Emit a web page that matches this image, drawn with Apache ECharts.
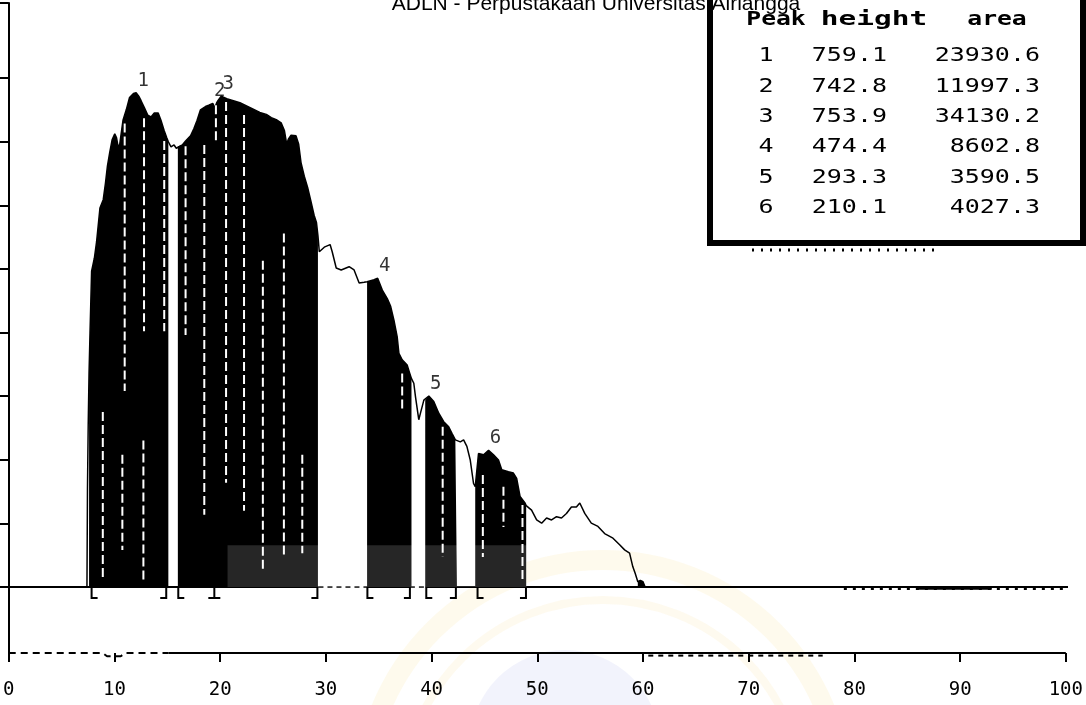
<!DOCTYPE html>
<html>
<head>
<meta charset="utf-8">
<script src="https://cdn.jsdelivr.net/npm/echarts@6/dist/echarts.min.js"></script>
<style>
  html, body { margin: 0; padding: 0; background: #fff; }
  #chart { width: 1086px; height: 705px; }
</style>
</head>
<body>
<div id="chart"></div>
<script>
// Detector trace: retention time (min) and response
const traceTime = [
  7.40, 7.45, 7.52, 7.60, 7.69, 7.84, 8.10, 8.31, 8.63, 8.94, 9.15, 9.34, 9.56, 9.78,
  10.03, 10.20, 10.35, 10.50, 10.81, 11.12, 11.43, 11.80, 12.05, 12.30, 12.52, 12.84,
  13.15, 13.46, 13.77, 14.14, 14.40, 14.71, 14.95, 15.10, 15.35, 15.64, 15.85, 16.00,
  16.42, 16.73, 17.20, 17.51, 17.82, 18.14, 18.61, 18.92, 19.30, 19.50, 19.70, 20.10,
  20.63, 21.25, 21.87, 22.50, 23.13, 23.75, 24.37, 24.84, 25.31, 25.77, 26.08, 26.30,
  26.45, 26.71, 27.18, 27.43, 27.65, 27.96, 28.27, 28.58, 28.89, 29.11, 29.25, 29.38,
  29.85, 30.40, 30.60, 30.98, 31.45, 32.20, 32.67, 33.15, 33.62, 33.90, 34.56, 34.90,
  35.34, 35.81, 36.13, 36.44, 36.75, 36.91, 37.22, 37.69, 37.90, 38.10, 38.32, 38.48,
  38.79, 38.95, 39.27, 39.40, 39.74, 40.21, 40.68, 41.15, 41.62, 41.93, 42.25, 42.40,
  42.72, 43.03, 43.34, 43.66, 43.97, 44.13, 44.44, 44.92, 45.39, 45.86, 46.33, 46.64,
  47.27, 47.74, 48.05, 48.37, 48.84, 48.95, 49.46, 49.94, 50.41, 50.88, 51.35, 51.82,
  52.29, 52.76, 53.23, 53.70, 54.02, 54.49, 55.11, 55.74, 56.37, 57.16, 57.79, 58.26,
  58.73, 59.04, 59.26, 59.51, 59.60, 59.75, 60.00, 60.20
];
const traceSignal = [
  0, 150, 250, 330, 390, 485, 505, 530, 582, 595, 620, 647, 668, 687,
  696, 690, 676, 680, 717, 733, 752, 758, 759.1, 754, 747, 736,
  725, 722, 728, 728, 717, 701, 690, 684, 676, 679, 674, 677,
  679, 685, 693, 704, 717, 733, 738, 740, 742.8, 736, 745, 753.9,
  750, 747, 744, 739, 734, 729, 726, 721, 718, 713, 701, 680,
  688, 694, 693, 680, 652, 631, 614, 593, 571, 560, 540, 515,
  522, 526, 515, 490, 487, 492, 487, 467, 468, 469, 472, 474.4,
  456, 443, 431, 410, 384, 359, 349, 341, 330, 320, 313, 292,
  257, 267, 287, 287, 293.3, 285, 267, 254, 246, 236, 226, 223,
  223, 226, 216, 195, 159, 154, 205, 203, 210.1, 203, 195, 180,
  177, 175, 167, 139, 129, 125, 118, 103, 98, 106, 103, 108,
  106, 113, 123, 123, 129, 113, 98, 93, 82, 75, 65, 57,
  52, 31, 21, 8, 6, 10, 8, 0
];

// Integrated (shaded) windows
const windowStart = [7.60, 16.00, 33.90, 39.40, 44.13, 59.51];
const windowEnd   = [15.10, 29.25, 38.10, 42.40, 48.95, 60.20];

// Peak table
const peakNo     = ['1', '2', '3', '4', '5', '6'];
const peakTime   = [12.05, 19.30, 20.10, 34.90, 39.74, 45.39];
const peakHeight = [759.1, 742.8, 753.9, 474.4, 293.3, 210.1];
const peakArea   = [23930.6, 11997.3, 34130.2, 8602.8, 3590.5, 4027.3];

// Peak start / end / split marks under the baseline (0 start, 1 end, 2 split)
const markTime = [7.84, 14.90, 16.04, 19.45, 29.20, 33.93, 37.95, 39.50, 42.30, 44.35, 48.93];
const markKind = [0, 1, 0, 2, 1, 0, 1, 0, 1, 0, 1];

// Printer hatching inside the shaded windows
const hatchTime   = [8.90, 10.75, 10.97, 12.80, 12.74, 14.71, 16.73, 18.50, 19.60, 20.56, 22.26, 24.04, 26.03, 27.77, 37.22, 41.05, 44.85, 46.80, 48.60];
const hatchTop    = [269, 203, 712, 720, 225, 685, 677, 679, 760, 745, 725, 501, 543, 203, 328, 246, 172, 154, 126];
const hatchBottom = [12, 57, 301, 393, 9, 393, 387, 111, 685, 160, 117, 28, 44, 52, 272, 46, 46, 92, 11];

// Axis ticks
const xTickStep = 10;
const yTickValues = [0, 97.7, 195.4, 293.1, 390.8, 488.5, 586.2, 683.9, 781.6, 897.1];
const yMin = -101.4, yMax = 897.1;

const traceData = traceTime.map((t, i) => [t, traceSignal[i]]);

const windowSeries = windowStart.map((s, k) => ({
  type: 'line',
  data: traceData.filter(p => p[0] >= s && p[0] <= windowEnd[k]),
  symbol: 'none',
  lineStyle: { width: 0 },
  areaStyle: { color: '#000', opacity: 1 },
  z: 2,
  silent: true
}));

function seg(a, b, y) { return [[a, y], [b, y]]; }

const chart = echarts.init(document.getElementById('chart'), null, { renderer: 'canvas' });

const option = {
  animation: false,
  backgroundColor: '#fff',
  grid: { left: 8, right: 16, top: 3, bottom: 52, containLabel: false },
  xAxis: {
    type: 'value', min: 0, max: 100, interval: xTickStep,
    axisLine: { show: false, onZero: false },
    axisTick: { show: true, length: 9, lineStyle: { color: '#000', width: 2 } },
    axisLabel: { color: '#000', fontFamily: 'DejaVu Sans Mono', fontSize: 19, margin: 28 },
    splitLine: { show: false }
  },
  yAxis: {
    type: 'value', min: yMin, max: yMax,
    axisLine: { show: true, onZero: false, lineStyle: { color: '#000', width: 2 } },
    axisTick: { show: true, length: 9, customValues: yTickValues, lineStyle: { color: '#000', width: 2 } },
    axisLabel: { show: false },
    splitLine: { show: false }
  },
  graphic: [
    // faint library seal behind the plot
    { type: 'circle', z: 0, silent: true, shape: { cx: 603, cy: 800, r: 240 },
      style: { fill: 'none', stroke: 'rgba(246,222,140,0.16)', lineWidth: 20 } },
    { type: 'circle', z: 0, silent: true, shape: { cx: 603, cy: 800, r: 200 },
      style: { fill: 'none', stroke: 'rgba(246,222,140,0.14)', lineWidth: 8 } },
    { type: 'circle', z: 0, silent: true, shape: { cx: 565, cy: 745, r: 95 },
      style: { fill: 'rgba(175,180,235,0.16)' } },
    // peak table
    { type: 'rect', z: 100, silent: true, shape: { x: 710, y: -20, width: 373, height: 263 },
      style: { fill: '#fff', stroke: '#000', lineWidth: 6 } },
    { type: 'line', z: 100, silent: true, shape: { x1: 752, y1: 250, x2: 934, y2: 250 },
      style: { stroke: '#000', lineWidth: 3, lineDash: [2, 7] } },
    { type: 'text', z: 101, silent: true, x: 596, y: 4,
      style: { text: 'ADLN - Perpustakaan Universitas Airlangga', x: 0, y: 0, align: 'center', verticalAlign: 'middle',
               font: '21px "Liberation Sans", Arial, sans-serif', fill: '#000' } },
    ...[['Peak', 776, 1.3], ['height', 874, 1.55], ['area', 997, 1.3]].map(([w, cx, sx]) => ({
      type: 'text', z: 101, silent: true, x: cx, y: 20, scaleX: sx,
      style: { text: w, x: 0, y: 0, align: 'center', verticalAlign: 'middle',
               font: 'bold 19px "DejaVu Sans Mono", monospace', fill: '#000' }
    })),
    ...peakNo.flatMap((p, i) => {
      const y = 56 + i * 30.4;
      const font = '20px "DejaVu Sans Mono", monospace';
      return [
        { type: 'text', z: 101, silent: true, x: 766, y, scaleX: 1.25,
          style: { text: p, x: 0, y: 0, align: 'center', verticalAlign: 'middle', font, fill: '#000' } },
        { type: 'text', z: 101, silent: true, x: 887, y, scaleX: 1.25,
          style: { text: peakHeight[i].toFixed(1), x: 0, y: 0, align: 'right', verticalAlign: 'middle', font, fill: '#000' } },
        { type: 'text', z: 101, silent: true, x: 1040, y, scaleX: 1.25,
          style: { text: peakArea[i].toFixed(1), x: 0, y: 0, align: 'right', verticalAlign: 'middle', font, fill: '#000' } }
      ];
    })
  ],
  series: [
    // baseline
    { type: 'line', data: seg(0, 29.3, 0), symbol: 'none', lineStyle: { color: '#000', width: 2 }, z: 1, silent: true },
    { type: 'line', data: seg(29.3, 33.9, 0), symbol: 'none', lineStyle: { color: '#000', width: 1.5, type: [5, 4] }, z: 1, silent: true },
    { type: 'line', data: seg(33.9, 37.95, 0), symbol: 'none', lineStyle: { color: '#000', width: 2 }, z: 1, silent: true },
    { type: 'line', data: seg(37.95, 39.45, 0), symbol: 'none', lineStyle: { color: '#000', width: 1.5, type: [5, 4] }, z: 1, silent: true },
    { type: 'line', data: seg(39.45, 100.4, 0), symbol: 'none', lineStyle: { color: '#000', width: 2 }, z: 1, silent: true },
    { type: 'line', data: seg(79, 100.2, -3), symbol: 'none', lineStyle: { color: '#000', width: 2, type: [3, 6] }, z: 1, silent: true },
    { type: 'line', data: seg(86, 93, -2), symbol: 'none', lineStyle: { color: '#000', width: 3 }, z: 1, silent: true },
    // lower trace along the time axis
    { type: 'line', data: [[0, yMin], [8.9, yMin], [9.3, yMin - 5], [10.6, yMin - 5], [11.0, yMin], [15.1, yMin]], symbol: 'none', clip: false,
      lineStyle: { color: '#000', width: 2, type: [7, 5] }, z: 1, silent: true },
    { type: 'line', data: seg(15.1, 100, yMin), symbol: 'none', clip: false,
      lineStyle: { color: '#000', width: 2 }, z: 1, silent: true },
    { type: 'line', data: seg(60.5, 77, yMin - 4), symbol: 'none', clip: false,
      lineStyle: { color: '#000', width: 2, type: [5, 5] }, z: 1, silent: true },
    // shaded windows
    ...windowSeries,
    // trace
    { type: 'line', data: traceData, symbol: 'none', lineStyle: { color: '#000', width: 1.5 }, z: 3, silent: true },
    // hatching
    {
      type: 'custom', z: 4, silent: true, clip: false,
      data: hatchTime.map((t, i) => [t, hatchTop[i], hatchBottom[i]]),
      encode: { x: 0, y: [1, 2] },
      renderItem: (params, api) => {
        const p1 = api.coord([api.value(0), api.value(1)]);
        const p2 = api.coord([api.value(0), api.value(2)]);
        return { type: 'line', shape: { x1: p1[0], y1: p1[1], x2: p2[0], y2: p2[1] },
                 style: { stroke: '#fff', lineWidth: 2, lineDash: [9, 4] } };
      }
    },
    // light band across the lower part of the windows
    {
      type: 'custom', z: 5, silent: true,
      data: [[20.7, 49.0, 64]],
      encode: { x: [0, 1], y: 2 },
      renderItem: (params, api) => {
        const a = api.coord([api.value(0), api.value(2)]);
        const b = api.coord([api.value(1), 0]);
        return { type: 'rect', shape: { x: a[0], y: a[1], width: b[0] - a[0], height: b[1] - a[1] },
                 style: { fill: 'rgba(255,255,255,0.15)' } };
      }
    },
    // start / end marks
    {
      type: 'custom', z: 6, silent: true, clip: false,
      data: markTime.map((t, i) => [t, 0, markKind[i]]),
      encode: { x: 0, y: 1 },
      renderItem: (params, api) => {
        const p = api.coord([api.value(0), 0]);
        const k = api.value(2);
        const x = p[0], y = p[1], h = 11, f = 6;
        const pts = k === 0 ? [[x, y], [x, y + h], [x + f, y + h]]
                  : k === 1 ? [[x, y], [x, y + h], [x - f, y + h]]
                  : null;
        if (pts) {
          return { type: 'polyline', shape: { points: pts }, style: { stroke: '#000', lineWidth: 2, fill: null } };
        }
        return { type: 'group', children: [
          { type: 'line', shape: { x1: x, y1: y, x2: x, y2: y + h }, style: { stroke: '#000', lineWidth: 2 } },
          { type: 'line', shape: { x1: x - f, y1: y + h, x2: x + f, y2: y + h }, style: { stroke: '#000', lineWidth: 2 } }
        ] };
      }
    },
    // peak numbers
    {
      type: 'scatter', z: 7, silent: true,
      data: peakTime.map((t, i) => [t, peakHeight[i]]),
      symbolSize: 1, itemStyle: { color: 'rgba(0,0,0,0)' },
      label: {
        show: true, position: 'top', distance: 2, offset: [7, 0],
        formatter: p => peakNo[p.dataIndex],
        color: '#000', fontFamily: 'DejaVu Sans Mono', fontSize: 19
      }
    }
  ]
};

chart.setOption(option);
</script>
</body>
</html>
